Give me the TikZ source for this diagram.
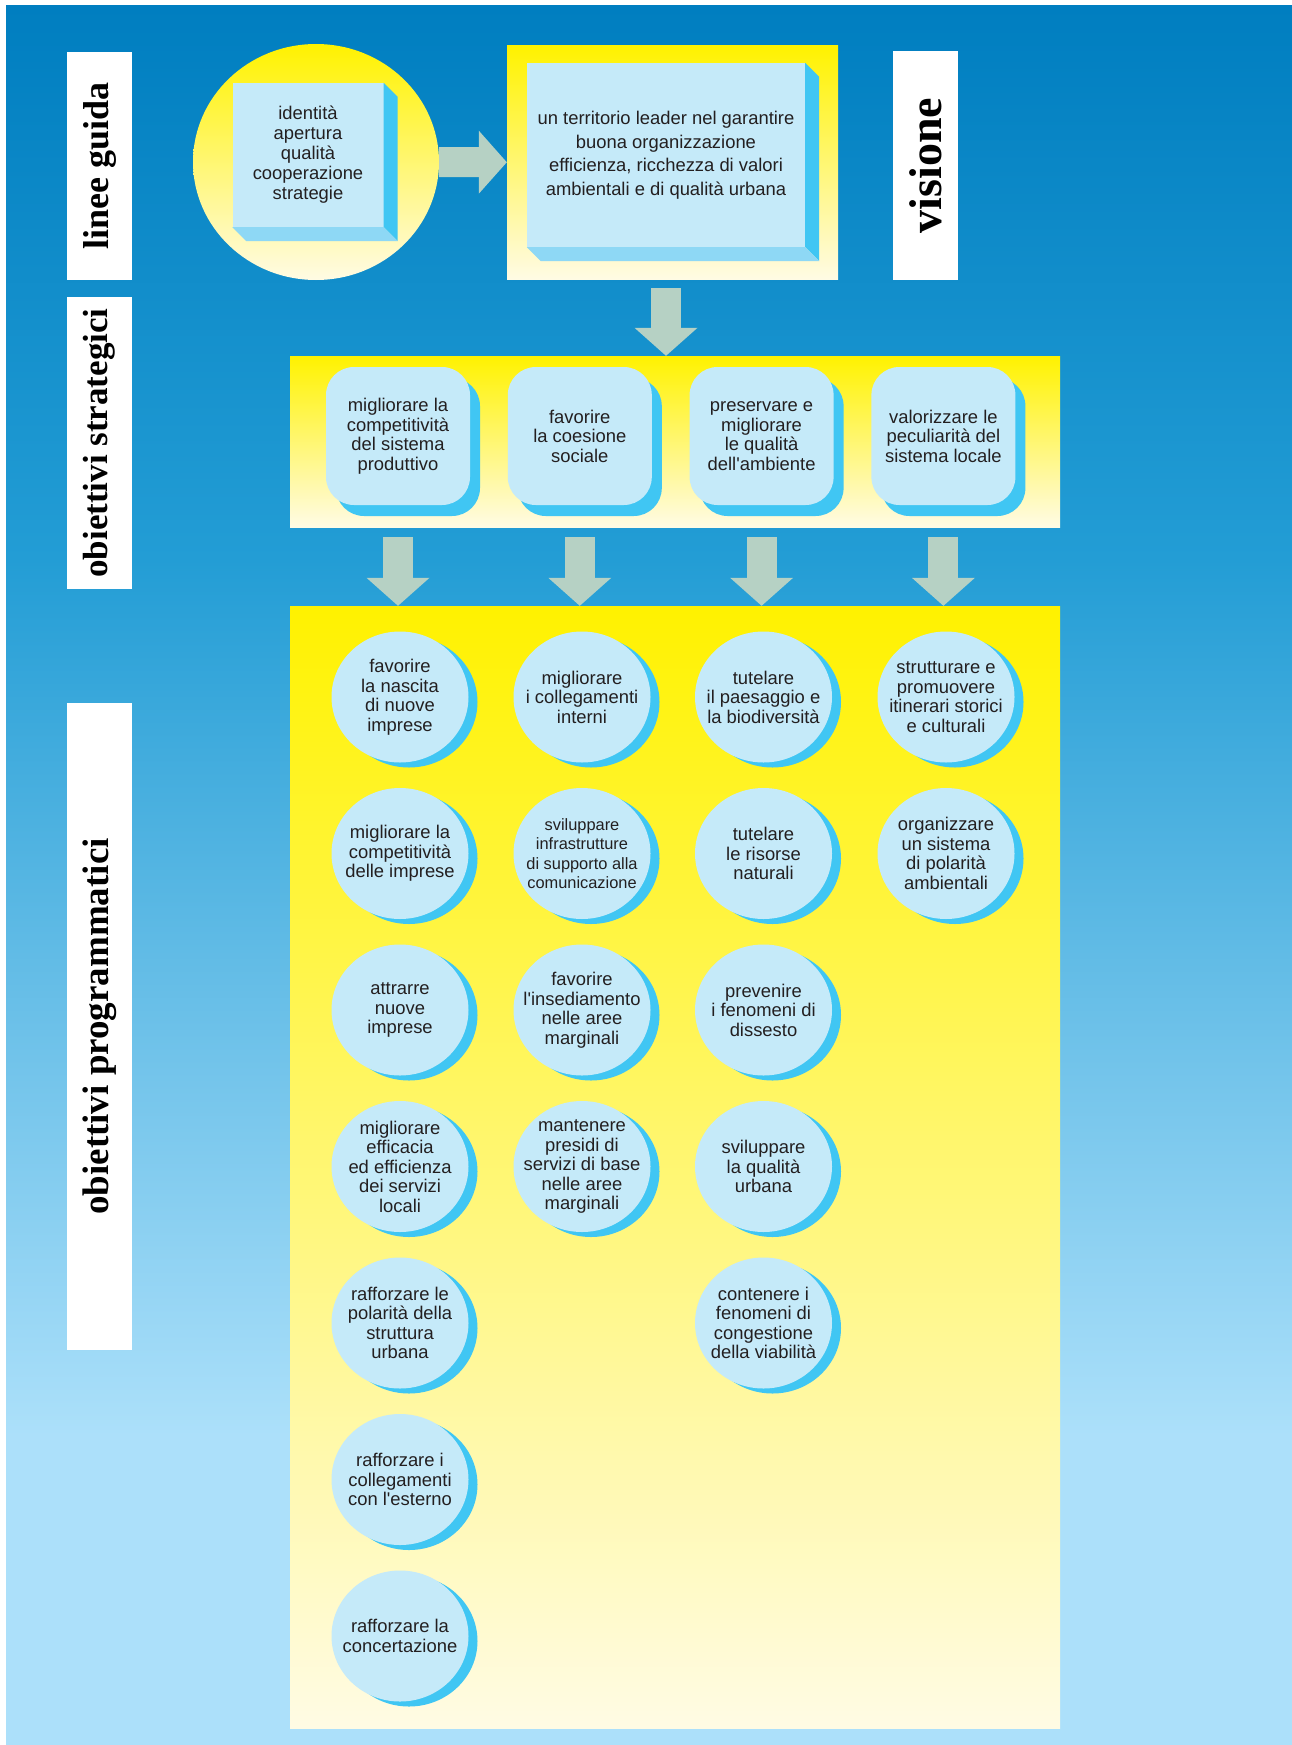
\documentclass[tikz,border=0pt]{standalone}
\usepackage{fontspec}
\setmainfont{Liberation Sans}[Ligatures=TeXOff]
\newfontfamily\tagfont{Liberation Serif}
\usetikzlibrary{arrows.meta,shapes.geometric,shadows,positioning}

\definecolor{bgtop}{RGB}{0,126,192}
\definecolor{bgmid}{RGB}{35,157,213}
\definecolor{bgbot}{RGB}{172,224,250}
\definecolor{yeltop}{RGB}{255,242,0}
\definecolor{yelbot}{RGB}{255,251,228}
\definecolor{facecol}{RGB}{197,234,249}
\definecolor{sidecol}{RGB}{64,198,243}
\definecolor{basecol}{RGB}{142,216,245}
\definecolor{arrcol}{RGB}{182,209,196}
\definecolor{txtcol}{RGB}{35,31,32}

\pgfdeclareverticalshading{backdrop}{100bp}{color(0bp)=(bgbot); color(33.9bp)=(bgbot); color(59.1bp)=(bgmid); color(75bp)=(bgtop); color(100bp)=(bgtop)}

\begin{document}
\begin{tikzpicture}[x=1pt,y=-1pt,node distance=156.5pt,
    face/.style={fill=facecol,text=txtcol,align=center,font=\fontsize{18.4}{19.5}\selectfont},
    goal/.style={face,ellipse,minimum width=137pt,minimum height=131pt,inner sep=-12pt,
        general shadow={fill=sidecol,shadow xshift=9pt,shadow yshift=-5pt}},
    aim/.style={face,rectangle,rounded corners=28pt,minimum width=144pt,minimum height=138pt,inner sep=0pt,
        general shadow={fill=sidecol,shadow xshift=10pt,shadow yshift=-11pt}},
    block/.style={face,rectangle,inner sep=0pt},
    panel/.style={rectangle,top color=yeltop,bottom color=yelbot,inner sep=0pt},
    tag/.style={rectangle,fill=white,rotate=90,inner sep=0pt,minimum height=65pt,
        font=\tagfont\bfseries\fontsize{#1}{#1}\selectfont},
    fat/.style={arrcol,line width=30pt,-{Triangle[width=63pt,length=28pt,line width=0pt]}}]

    \useasboundingbox (0,0) rectangle (1292,1745);
    \shade[shading=backdrop] (6,6) rectangle (1292,1745);

    \node[tag=36,minimum width=228pt] (tguide)  at (99.5,166)    {linee guida};
    \node[tag=35,minimum width=292pt] (tstrat)  at (99.5,443)    {obiettivi strategici};
    \node[tag=37,minimum width=647pt] (tprog)   at (99.5,1026.5) {obiettivi programmatici};
    \node[tag=46,minimum width=228pt] (tvision) at (925.5,165.5) {visione};

    \node[ellipse,top color=yeltop,bottom color=yelbot,minimum width=246pt,minimum height=236pt] (lg) at (316,162) {};
    \node[block,minimum width=151pt,minimum height=144pt,font=\fontsize{18.4}{20}\selectfont] (core) at (308,155)
        {identità\\apertura\\qualità\\cooperazione\\strategie};
    \fill[sidecol] (core.north east) -- ([shift={(14,14)}]core.north east) -- ([shift={(14,14)}]core.south east) -- (core.south east) -- cycle;
    \fill[basecol] (core.south west) -- (core.south east) -- ([shift={(14,14)}]core.south east) -- ([shift={(14,14)}]core.south west) -- cycle;

    \node[panel,minimum width=331pt,minimum height=233pt] (vis) at (672.5,162.5) {};
    \node[block,minimum width=278pt,minimum height=184pt,font=\fontsize{18.4}{23.5}\selectfont] (visin) at (666,155)
        {un territorio leader nel garantire\\buona organizzazione\\efficienza, ricchezza di valori\\ambientali e di qualità urbana};
    \fill[sidecol] (visin.north east) -- ([shift={(14,14)}]visin.north east) -- ([shift={(14,14)}]visin.south east) -- (visin.south east) -- cycle;
    \fill[basecol] (visin.south west) -- (visin.south east) -- ([shift={(14,14)}]visin.south east) -- ([shift={(14,14)}]visin.south west) -- cycle;

    \node[panel,minimum width=770pt,minimum height=171pt]  (sband) at (675,441.5) {};
    \node[panel,minimum width=770pt,minimum height=1122pt] (pband) at (675,1167)  {};

    \node[aim] (s1) at (398,436) {migliorare la\\competitività\\del sistema\\produttivo};
    \node[aim,node distance=181.8pt,right of=s1] (s2) {favorire\\la coesione\\sociale};
    \node[aim,node distance=181.8pt,right of=s2] (s3) {preservare e\\migliorare\\le qualità\\dell'ambiente};
    \node[aim,node distance=181.8pt,right of=s3] (s4) {valorizzare le\\peculiarità del\\sistema locale};

    \node[goal] (p11) at (400,697) {favorire\\la nascita\\di nuove\\imprese};
    \node[goal,below of=p11] (p12) {migliorare la\\competitività\\delle imprese};
    \node[goal,below of=p12] (p13) {attrarre\\nuove\\imprese};
    \node[goal,below of=p13] (p14) {migliorare\\efficacia\\ed efficienza\\dei servizi\\locali};
    \node[goal,below of=p14] (p15) {rafforzare le\\polarità della\\struttura\\urbana};
    \node[goal,below of=p15] (p16) {rafforzare i\\collegamenti\\con l'esterno};
    \node[goal,below of=p16] (p17) {rafforzare la\\concertazione};

    \node[goal] (p21) at (582,697) {migliorare\\i collegamenti\\interni};
    \node[goal,below of=p21,font=\fontsize{16.4}{19.4}\selectfont] (p22) {sviluppare\\infrastrutture\\di supporto alla\\comunicazione};
    \node[goal,below of=p22] (p23) {favorire\\l'insediamento\\nelle aree\\marginali};
    \node[goal,below of=p23] (p24) {mantenere\\presidi di\\servizi di base\\nelle aree\\marginali};

    \node[goal] (p31) at (763.5,697) {tutelare\\il paesaggio e\\la biodiversità};
    \node[goal,below of=p31] (p32) {tutelare\\le risorse\\naturali};
    \node[goal,below of=p32] (p33) {prevenire\\i fenomeni di\\dissesto};
    \node[goal,below of=p33] (p34) {sviluppare\\la qualità\\urbana};
    \node[goal,below of=p34] (p35) {contenere i\\fenomeni di\\congestione\\della viabilità};

    \node[goal] (p41) at (946,697) {strutturare e\\promuovere\\itinerari storici\\e culturali};
    \node[goal,below of=p41] (p42) {organizzare\\un sistema\\di polarità\\ambientali};

    \path[fat]
        (lg) edge (vis)
        (visin.south |- vis.south) edge[shorten <=9pt] (visin.south |- sband.north)
        (s1 |- sband.south) edge[shorten <=10pt] (s1 |- pband.north)
        (s2 |- sband.south) edge[shorten <=10pt] (s2 |- pband.north)
        (s3 |- sband.south) edge[shorten <=10pt] (s3 |- pband.north)
        (s4 |- sband.south) edge[shorten <=10pt] (s4 |- pband.north)
        ;
\end{tikzpicture}
\end{document}
